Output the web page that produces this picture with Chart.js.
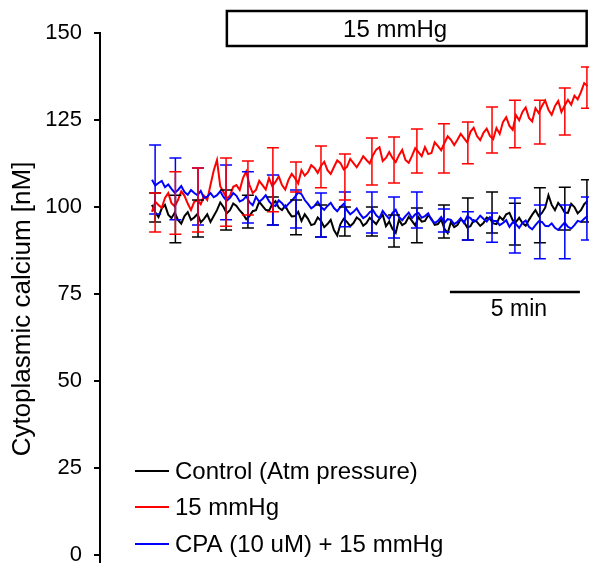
<!DOCTYPE html>
<html><head><meta charset="utf-8">
<title>Cytoplasmic calcium</title>
<script src="https://cdn.jsdelivr.net/npm/chart.js"></script>
<style>
  html, body { margin: 0; padding: 0; background: #fff; }
  #chart { display: block; }
</style>
</head>
<body>
<canvas id="chart" width="589" height="563"></canvas>
<script>
// time in minutes (trace samples)
const times = [0,0.125,0.25,0.375,0.5,0.625,0.75,0.875,1,1.125,1.25,1.375,1.5,1.625,1.75,1.875,
  2,2.125,2.25,2.375,2.5,2.625,2.75,2.875,3,3.125,3.25,3.375,3.5,3.625,3.75,3.875,
  4,4.125,4.25,4.375,4.5,4.625,4.75,4.875,5,5.125,5.25,5.375,5.5,5.625,5.75,5.875,
  6,6.125,6.25,6.375,6.5,6.625,6.75,6.875,7,7.125,7.25,7.375,7.5,7.625,7.75,7.875,
  8,8.125,8.25,8.375,8.5,8.625,8.75,8.875,9,9.125,9.25,9.375,9.5,9.625,9.75,9.875,
  10,10.125,10.25,10.375,10.5,10.625,10.75,10.875,11,11.125,11.25,11.375,11.5,11.625,11.75,11.875,
  12,12.125,12.25,12.375,12.5,12.625,12.75,12.875,13,13.125,13.25,13.375,13.5,13.625,13.75,13.875,
  14,14.125,14.25,14.375,14.5,14.625,14.75,14.875,15,15.125,15.25,15.375,15.5,15.625,15.75,15.875,
  16,16.125,16.25,16.375,16.5,16.625,16.75];

const controlVals = [100.6,98.5,97.1,99.6,100.6,97.8,96.8,98.4,96.3,95.2,
  97.4,98.5,96.3,97.0,98,95.6,96.6,97.9,95.7,97.4,
  99.1,101.3,100,98.2,99.1,101.0,100.3,99.0,98,96.5,
  97.4,98.8,99.1,101.5,100.3,99.2,98.9,100.8,101.7,99.8,
  99.1,100.4,98.6,97.3,97.4,98.6,96,97.9,96.6,94.8,
  95.1,97.0,96,94.2,95.1,96.3,93.4,91.8,95.1,96.6,
  95.7,94.5,95.4,97.0,96.3,94.6,95.4,96.9,96,95.1,
  96.6,97.8,94.5,95.8,93.7,92.6,96.3,94.8,95.4,97.2,
  96,94.7,97.1,95.8,96,97.6,96.6,94.9,95.1,96.4,
  93.7,92.5,95.7,94.2,94.8,96.5,95.7,94.1,94.5,96.2,
  95.7,94.6,95.4,97.0,96.6,95.3,95.1,97.2,96.3,97.9,
  98.3,96.2,95.7,96.9,95.4,94.6,96.3,97.8,99.1,97.4,
  98.3,99.8,103.4,100.6,99.1,101.2,100,98.4,98.3,100.9,
  100,98.2,99.1,100.8,101.7];

const pressureVals = [98.6,101.5,100.6,99.8,102.6,104.0,101.1,100.2,102,104.5,
  103.2,101.0,99.1,101.5,102,100.8,103.2,102.0,106.3,110.5,
  113.5,106.0,104.3,102.5,103.2,105.8,106.3,104.9,108.3,110.2,
  106.3,104.0,104.9,107.5,106.3,105.0,108.3,106.0,107.2,108.8,
  106.3,105.0,107.8,109.5,108.3,106.8,110.6,109.0,110,112.0,
  111.2,109.8,111.8,113.0,110.6,109.5,111.5,113.4,112.6,110.8,
  111.5,113.8,112.6,111.4,112.9,114.6,113.5,112.5,114.9,116.5,
  117.2,113.2,114.1,115.8,114.1,112.9,114.9,116.4,113.5,112.7,
  114.7,116.9,115.8,114.6,117.2,115.2,115.5,118.6,117.5,116.3,
  118.4,120.3,119.3,117.8,119.3,121.0,119.8,118.6,121.6,122.8,
  120.4,119.2,121.3,122.5,120.4,119.5,122.7,121.0,124.4,125.8,
  123.3,122.2,126.4,124.9,127.3,128.6,125.6,124.6,128.4,127.0,
  129,130.6,127.9,126.5,129,130.5,127.3,129.2,130.8,129.4,
  132,130.9,133,135.6,134.8];

const cpaVals = [107.8,106.2,106.9,107.5,105.7,106.5,105.2,104.1,104.9,106.0,
  104.3,103.5,104.9,104.0,103.4,104.6,102.6,103.0,104,102.8,
  103.4,104.5,102.9,101.8,102.6,104.0,103.2,101.6,102,103.1,
  101.4,100.5,102.9,101.5,102.3,103.4,101.7,100.6,100.3,101.9,
  101.1,99.8,100.9,101.8,102.9,104.2,103.7,102.0,100.9,99.6,
  100.3,101.5,100,99.2,100.3,101.2,99.7,98.8,100,100.9,
  99.1,97.9,98.6,99.6,98,96.8,97.4,98.5,99.1,97.6,
  96.8,98.9,97.7,96.6,98.3,99.2,97.1,96.2,97.4,98.4,
  96.8,97.9,98.3,96.9,97.4,98.2,96.3,95.4,96,97.1,
  95.4,96.5,96.3,95.1,95.7,96.8,95.4,97.3,96.8,95.7,
  96.3,97.5,96.6,95.8,97.1,96.0,96,94.8,95.4,96.2,
  94.3,95.6,95.1,94.0,95.4,96.1,94.3,93.6,94.8,95.9,
  95.7,94.6,94.5,95.3,94,93.4,94.5,95.5,94.3,93.8,
  94.8,96.0,95.7,96.6,97.4];

// error bars (upper / lower ends)
const errTimes = [0.12,0.9,1.77,2.85,3.69,4.65,5.54,6.5,7.42,8.46,9.31,10.19,11.23,12.15,13.08,13.96,14.92,15.88,16.73];
const controlHi = [104.0,103.4,102.0,104.9,103.4,102.9,102.0,100.6,100.0,100.0,97.7,99.7,100.6,102.6,104.3,101.1,105.5,105.7,107.8];
const controlLo = [95.7,89.7,91.4,93.4,94.0,94.8,92.0,91.4,91.7,91.7,88.5,89.7,91.1,90.5,92.5,89.1,89.7,93.4,95.7];
const pressureHi = [104.0,110.1,111.2,114.1,113.2,117.0,112.9,117.5,115.2,119.8,120.1,122.4,123.9,124.4,128.7,130.7,130.7,134.2,140.2];
const pressureLo = [92.8,92.2,92.8,94.5,97.7,98.6,104.3,105.5,102.0,106.3,106.9,109.8,109.8,112.4,115.5,117.0,118.1,120.7,128.4];
const cpaHi = [117.8,114.1,111.2,112.1,110.1,109.2,104.9,104.0,104.3,104.3,102.9,104.3,99.4,98.6,98.3,102.6,100.6,100.6,102.9];
const cpaLo = [98.0,96.3,94.8,96.3,95.4,94.8,94.0,91.4,94.3,92.5,91.1,94.0,92.8,90.5,89.9,86.8,85.1,85.1,90.5];

const yTicks = [0, 25, 50, 75, 100, 125, 150];
const seriesLabels = ['Control (Atm pressure)', '15 mmHg', 'CPA (10 uM) + 15 mmHg'];
const seriesColors = ['#000000', '#ff0000', '#0000ff'];

const FONT = '"Liberation Sans", Arial, sans-serif';

function pts(vals) {
  return vals.map((v, i) => ({ x: times[i], y: v }));
}

const errSets = [
  { hi: controlHi, lo: controlLo },
  { hi: pressureHi, lo: pressureLo },
  { hi: cpaHi, lo: cpaLo }
];

// error bars, pressure box, scale bar, legend, axis title
const extras = {
  id: 'extras',
  afterDatasetsDraw(chart) {
    const ctx = chart.ctx;
    const xs = chart.scales.x;
    const ys = chart.scales.y;
    ctx.save();

    // error bars
    [0, 2, 1].forEach(k => {
      const e = errSets[k];
      ctx.strokeStyle = seriesColors[k];
      ctx.lineWidth = 1.5;
      errTimes.forEach((t, i) => {
        const x = xs.getPixelForValue(t);
        const y1 = ys.getPixelForValue(e.hi[i]);
        const y2 = ys.getPixelForValue(e.lo[i]);
        ctx.beginPath();
        ctx.moveTo(x, y1); ctx.lineTo(x, y2);
        ctx.moveTo(x - 6, y1); ctx.lineTo(x + 6, y1);
        ctx.moveTo(x - 6, y2); ctx.lineTo(x + 6, y2);
        ctx.stroke();
      });
    });

    // pressure application box
    const bx1 = xs.getPixelForValue(2.88);
    const bx2 = xs.getPixelForValue(16.72);
    ctx.strokeStyle = '#000';
    ctx.lineWidth = 2.5;
    ctx.strokeRect(bx1, 11, bx2 - bx1, 35);
    ctx.fillStyle = '#000';
    ctx.font = '24px ' + FONT;
    ctx.textAlign = 'center';
    ctx.textBaseline = 'middle';
    ctx.fillText('15 mmHg', xs.getPixelForValue(9.35), 30);

    // 5 min scale bar
    const sx1 = xs.getPixelForValue(11.46);
    const sx2 = xs.getPixelForValue(16.46);
    const sy = ys.getPixelForValue(75.6);
    ctx.lineWidth = 2.5;
    ctx.beginPath();
    ctx.moveTo(sx1, sy); ctx.lineTo(sx2, sy);
    ctx.stroke();
    ctx.font = '23px ' + FONT;
    ctx.fillText('5 min', (sx1 + sx2) / 2 + 4, sy + 18);

    // legend
    ctx.textAlign = 'left';
    ctx.font = '24px ' + FONT;
    const rows = [471, 507, 544];
    seriesLabels.forEach((lab, k) => {
      ctx.strokeStyle = seriesColors[k];
      ctx.lineWidth = 2;
      ctx.beginPath();
      ctx.moveTo(135, rows[k]); ctx.lineTo(169, rows[k]);
      ctx.stroke();
      ctx.fillStyle = '#000';
      ctx.fillText(lab, 175, rows[k] + 1);
    });

    // y axis title
    ctx.translate(23, 309);
    ctx.rotate(-Math.PI / 2);
    ctx.textAlign = 'center';
    ctx.font = '26px ' + FONT;
    ctx.fillText('Cytoplasmic calcium [nM]', 0, 0);
    ctx.restore();
  }
};

const chart = new Chart(document.getElementById('chart'), {
  type: 'line',
  data: {
    datasets: [
      { label: seriesLabels[0], data: pts(controlVals), borderColor: seriesColors[0], order: 3 },
      { label: seriesLabels[1], data: pts(pressureVals), borderColor: seriesColors[1], order: 2 },
      { label: seriesLabels[2], data: pts(cpaVals), borderColor: seriesColors[2], order: 1 }
    ]
  },
  options: {
    responsive: false,
    animation: false,
    layout: { padding: { top: 33, right: 0, bottom: 0, left: 0 } },
    elements: {
      line: { borderWidth: 2, tension: 0 },
      point: { radius: 0 }
    },
    plugins: {
      legend: { display: false },
      tooltip: { enabled: false }
    },
    scales: {
      x: {
        type: 'linear',
        display: false,
        min: -2.0,
        max: 16.81
      },
      y: {
        min: -2.3,
        max: 150,
        afterBuildTicks: (scale) => { scale.ticks = yTicks.map(v => ({ value: v })); },
        afterFit: (scale) => { scale.width = 100; scale.paddingTop = 0; scale.paddingBottom = 0; },
        grid: { drawOnChartArea: false, drawTicks: true, tickLength: 6, color: '#000', lineWidth: 2 },
        border: { display: true, color: '#000', width: 2 },
        ticks: { color: '#000', padding: 12, font: { size: 22, family: FONT } }
      }
    }
  },
  plugins: [extras]
});
</script>
</body>
</html>
